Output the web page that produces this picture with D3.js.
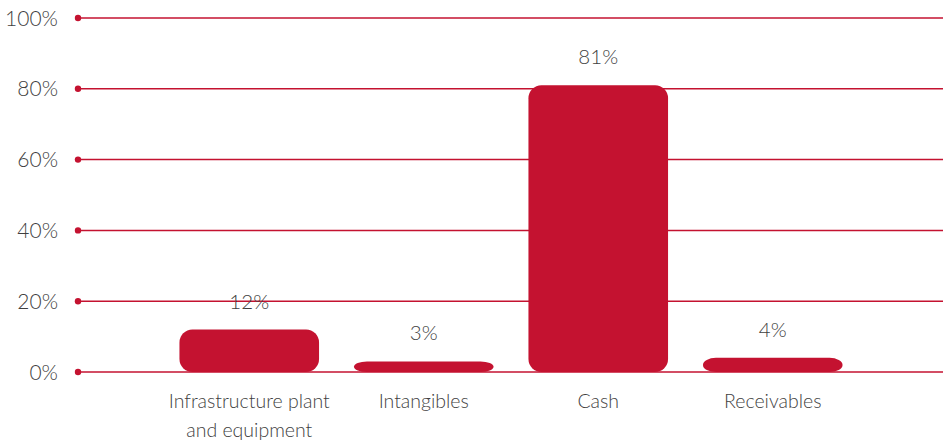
<!DOCTYPE html>
<html>
<head>
<meta charset="utf-8">
<script src="https://cdn.jsdelivr.net/npm/d3@7"></script>
<style>
  html, body { margin: 0; padding: 0; background: #fff; }
  svg text { font-family: Lato, "Open Sans", sans-serif; font-weight: 300; fill: #3f3f3f; }
</style>
</head>
<body>
<svg id="chart" width="943" height="446"></svg>
<script>
// Asset composition, share of total
const categories = [["Infrastructure plant", "and equipment"], ["Intangibles"], ["Cash"], ["Receivables"]];
const values = [12, 3, 81, 4];
const valueLabels = ["12%", "3%", "81%", "4%"];
const yTicks = [0, 20, 40, 60, 80, 100];
const yTickLabels = ["0%", "20%", "40%", "60%", "80%", "100%"];

const red = "#c41230";
const svg = d3.select("#chart");

const y = d3.scaleLinear().domain([0, 100]).range([372, 18]);
const x = d3.scaleBand().domain(d3.range(categories.length)).range([162, 860]).paddingInner(0.2).paddingOuter(0.1);

// gridlines with a dot at the left end
const grid = svg.append("g");
grid.selectAll("line").data(yTicks).join("line")
  .attr("x1", 78).attr("x2", 943)
  .attr("y1", d => y(d)).attr("y2", d => y(d))
  .attr("stroke", red).attr("stroke-width", 1.5);
grid.selectAll("circle").data(yTicks).join("circle")
  .attr("cx", 78).attr("cy", d => y(d)).attr("r", 3.2).attr("fill", red);

// y-axis labels
svg.append("g").selectAll("text").data(yTicks).join("text")
  .attr("x", 58).attr("y", d => y(d))
  .attr("dy", "0.36em")
  .attr("text-anchor", "end")
  .style("font-size", "21px")
  .text((d, i) => yTickLabels[i]);

// bars with rounded corners
svg.append("g").selectAll("rect").data(values).join("rect")
  .attr("x", (d, i) => x(i))
  .attr("width", x.bandwidth())
  .attr("y", d => y(d))
  .attr("height", d => y(0) - y(d))
  .attr("rx", 13)
  .attr("ry", d => Math.min(13, (y(0) - y(d)) / 2))
  .attr("fill", red);

// value labels above bars
svg.append("g").selectAll("text").data(values).join("text")
  .attr("x", (d, i) => x(i) + x.bandwidth() / 2)
  .attr("y", d => y(d) - 21)
  .attr("text-anchor", "middle")
  .style("font-size", "20.5px")
  .text((d, i) => valueLabels[i]);

// category labels
const cat = svg.append("g").selectAll("text").data(categories).join("text")
  .attr("x", (d, i) => x(i) + x.bandwidth() / 2)
  .attr("y", 408)
  .attr("text-anchor", "middle")
  .style("font-size", "19.5px");
cat.selectAll("tspan").data(d => d).join("tspan")
  .attr("x", function() { return d3.select(this.parentNode).attr("x"); })
  .attr("dy", (d, i) => i === 0 ? 0 : 29)
  .text(d => d);
</script>
</body>
</html>
